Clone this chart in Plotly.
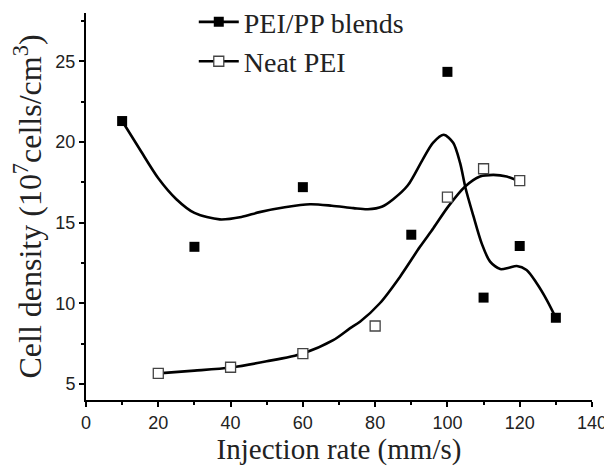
import plotly.graph_objects as go

# Measured points
blend_x = [10, 30, 60, 90, 100, 110, 120, 130]
blend_y = [21.3, 13.5, 17.2, 14.25, 24.35, 10.35, 13.55, 9.1]
neat_x = [20, 40, 60, 80, 100, 110, 120]
neat_y = [5.65, 6.03, 6.88, 8.59, 16.58, 18.34, 17.6]

# Smooth fitted curves
blend_curve_x = [10, 15, 20, 25, 30, 37, 43, 48, 55, 62, 68, 74, 78, 82, 85, 89, 93, 96, 99,
                 101.6, 103.5, 105, 107.2, 109.5, 111.8, 114.6, 117, 119.2, 121.9, 124.7, 127.5, 130]
blend_curve_y = [21.3, 19.5, 17.75, 16.45, 15.6, 15.2, 15.35, 15.65, 15.95, 16.14, 16.05, 15.9, 15.83,
                 16.0, 16.45, 17.3, 18.85, 19.95, 20.45, 19.95, 18.7, 17.15, 15.4, 13.7, 12.58, 12.12,
                 12.2, 12.31, 12.06, 11.24, 10.2, 9.1]
neat_curve_x = [20, 30, 40, 50, 60, 68.4, 73, 75.8, 81.3, 86.9, 92.4, 96.1, 100.2, 104.9, 109, 112.7, 116.4, 120]
neat_curve_y = [5.65, 5.82, 6.02, 6.4, 6.89, 7.71, 8.44, 8.85, 10.0, 11.65, 13.5, 14.65, 15.99, 17.24,
                17.86, 17.96, 17.86, 17.55]

x_ticks = [0, 20, 40, 60, 80, 100, 120, 140]
y_ticks = [5, 10, 15, 20, 25]

LINE_W = 2.6
SERIF = "Liberation Serif, Times New Roman, serif"
fig = go.Figure()

fig.add_trace(go.Scatter(x=blend_curve_x, y=blend_curve_y, mode="lines",
                         line=dict(color="black", width=LINE_W, shape="spline", smoothing=0.8),
                         showlegend=False, hoverinfo="skip"))
fig.add_trace(go.Scatter(x=neat_curve_x, y=neat_curve_y, mode="lines",
                         line=dict(color="black", width=LINE_W, shape="spline", smoothing=0.8),
                         showlegend=False, hoverinfo="skip"))
fig.add_trace(go.Scatter(x=blend_x, y=blend_y, mode="markers",
                         marker=dict(symbol="square", size=10, color="black"),
                         showlegend=False))
fig.add_trace(go.Scatter(x=neat_x, y=neat_y, mode="markers",
                         marker=dict(symbol="square", size=10, color="white",
                                     line=dict(color="#444", width=1.3)),
                         showlegend=False))
# legend entries
fig.add_trace(go.Scatter(x=[None], y=[None], mode="lines+markers", name="PEI/PP blends",
                         line=dict(color="black", width=LINE_W),
                         marker=dict(symbol="square", size=10, color="black")))
fig.add_trace(go.Scatter(x=[None], y=[None], mode="lines+markers", name="Neat PEI",
                         line=dict(color="black", width=LINE_W),
                         marker=dict(symbol="square", size=10, color="white",
                                     line=dict(color="#444", width=1.3))))

axis_common = dict(showline=True, linecolor="black", linewidth=2, ticks="outside",
                   ticklen=5, tickwidth=2, tickcolor="black", showgrid=False, zeroline=False,
                   mirror=False, automargin=False,
                   tickfont=dict(family="Liberation Sans, Arial", size=18, color="#222"))

fig.update_xaxes(range=[0, 140], tickvals=x_ticks,
                 minor=dict(dtick=10, tick0=0, ticks="outside", ticklen=3, tickwidth=1.5, tickcolor="black"),
                 title=dict(text="Injection rate (mm/s)", standoff=0,
                            font=dict(family=SERIF, size=29, color="#222")),
                 **axis_common)
fig.update_yaxes(range=[4, 28], tickvals=y_ticks,
                 minor=dict(dtick=2.5, tick0=0, ticks="outside", ticklen=3, tickwidth=1.5, tickcolor="black"),
                 title=dict(text="Cell density (10<sup>7</sup>cells/cm<sup>3</sup>)", standoff=12,
                            font=dict(family=SERIF, size=32, color="#222")),
                 **axis_common)

fig.update_layout(
    width=604, height=458,
    margin=dict(l=78, r=20, t=5, b=66, autoexpand=False),
    paper_bgcolor="white", plot_bgcolor="white",
    legend=dict(x=0.213, y=1.041, xanchor="left", yanchor="top",
                bgcolor="rgba(0,0,0,0)",
                font=dict(family=SERIF, size=28, color="#222"),
                itemwidth=40, tracegroupgap=0),
)

fig.write_html("out.html")
